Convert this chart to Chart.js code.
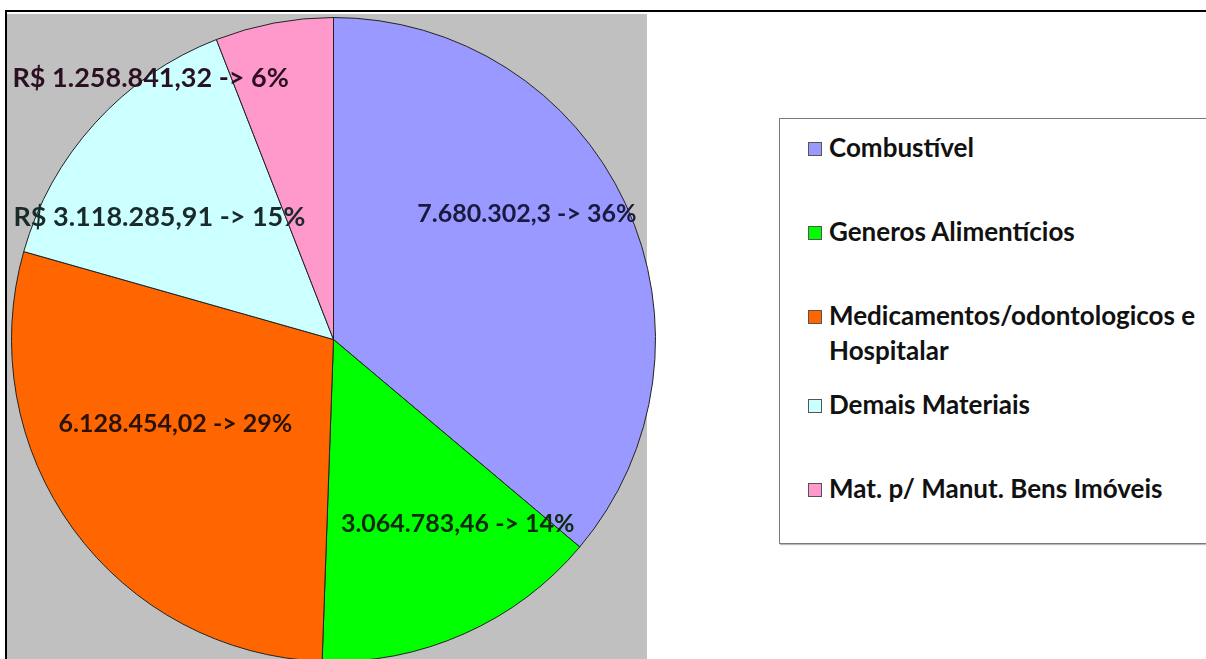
<!DOCTYPE html>
<html>
<head>
<meta charset="utf-8">
<script src="https://cdn.jsdelivr.net/npm/chart.js@4/dist/chart.umd.min.js"></script>
<style>
  html, body { margin: 0; padding: 0; background: #fff; }
  #frame { position: relative; width: 1206px; height: 659px; overflow: hidden; background: #fff; }
  #topLine { position: absolute; left: 5px; top: 10px; width: 1201px; height: 2px; background: #000; }
  #leftLine { position: absolute; left: 5px; top: 10px; width: 2px; height: 649px; background: #000; }
  #plotBg { position: absolute; left: 7px; top: 14px; width: 640px; height: 645px; background: #c0c0c0; }
  #pieBox { position: absolute; left: 11px; top: 17px; width: 645px; height: 645px; }
  #legend { position: absolute; left: 779px; top: 118px; width: 440px; height: 424px;
            border: 1px solid #7a7a7a; background: #fff; box-shadow: 1px 1px 1px #bbb;
            font-family: Lato, "Open Sans", sans-serif; font-weight: bold; font-size: 26px; color: #111; }
  .item { position: absolute; left: 28px; line-height: 35px; white-space: nowrap; }
  .box { display: inline-block; width: 12px; height: 12px; border: 1px solid #555; margin-right: 7px; vertical-align: 1px; }
  .sub { padding-left: 21px; display: block; }
</style>
</head>
<body>
<div id="frame">
  <div id="topLine"></div>
  <div id="leftLine"></div>
  <div id="plotBg"></div>
  <div id="pieBox"><canvas id="pie" width="645" height="645"></canvas></div>
  <div id="legend"></div>
</div>
<script>
// Categorias e valores (R$)
const categories = ['Combustível', 'Generos Alimentícios', 'Medicamentos/odontologicos e Hospitalar', 'Demais Materiais', 'Mat. p/ Manut. Bens Imóveis'];
const values = [7680302.3, 3064783.46, 6128454.02, 3118285.91, 1258841.32];
const labelPrefix = ['', '', '', 'R$ ', 'R$ '];
const colors = ['#9999ff', '#00ff00', '#ff6600', '#ccffff', '#ff99cc'];
const labelColors = ['#1a1a40', '#0f2a0f', '#2a1208', '#1a2a2a', '#2a1020'];

// Posição dos rótulos: ângulo (graus desde o topo) e fração do raio
const labelAnchor = [[57, 0.716], [146, 0.69], [242, 0.556], [305, 0.66], [325, 0.99]];
// Posição vertical das linhas da legenda
const legendTops = [11, 95, 179, 268, 352];

const total = values.reduce((a, b) => a + b, 0);

// Formata número no padrão brasileiro
function formatBR(v) {
    let s = String(Math.round(v * 100) / 100);
    let [intPart, dec] = s.split('.');
    intPart = intPart.replace(/\B(?=(\d{3})+(?!\d))/g, '.');
    return dec ? intPart + ',' + dec : intPart;
}

function labelText(i) {
    const pct = Math.round(values[i] / total * 100);
    return labelPrefix[i] + formatBR(values[i]) + ' -> ' + pct + '%';
}

// Plugin para desenhar os rótulos dos dados
const sliceLabels = {
    id: 'sliceLabels',
    afterDatasetsDraw(chart) {
        const ctx = chart.ctx;
        const arcs = chart.getDatasetMeta(0).data;
        ctx.save();
        ctx.textAlign = 'center';
        ctx.textBaseline = 'middle';
        arcs.forEach((arc, i) => {
            const ang = labelAnchor[i][0] * Math.PI / 180;
            const r = arc.outerRadius * labelAnchor[i][1];
            const x = arc.x + Math.sin(ang) * r;
            const y = arc.y - Math.cos(ang) * r;
            // os rótulos com R$ são um pouco maiores no original
            ctx.font = (labelPrefix[i] ? 'bold 27px' : 'bold 25px') + ' Lato, "Open Sans", sans-serif';
            ctx.fillStyle = labelColors[i];
            ctx.fillText(labelText(i), x, y);
        });
        ctx.restore();
    }
};

const ctxPie = document.getElementById('pie').getContext('2d');
const pieChart = new Chart(ctxPie, {
    type: 'pie',
    data: {
        labels: categories,
        datasets: [{
            data: values,
            backgroundColor: colors,
            borderColor: '#222',
            borderWidth: 1
        }]
    },
    options: {
        responsive: false,
        animation: false,
        layout: { padding: 0 },
        plugins: {
            legend: { display: false },
            tooltip: { enabled: false }
        }
    },
    plugins: [sliceLabels]
});

// Legenda em HTML
const legendEl = document.getElementById('legend');
categories.forEach((cat, i) => {
    const row = document.createElement('div');
    row.className = 'item';
    row.style.top = legendTops[i] + 'px';
    const box = '<span class="box" style="background:' + colors[i] + '"></span>';
    if (cat.startsWith('Medicamentos')) {
        row.innerHTML = box + 'Medicamentos/odontologicos e<span class="sub">Hospitalar</span>';
    } else {
        row.innerHTML = box + cat;
    }
    legendEl.appendChild(row);
});
</script>
</body>
</html>
